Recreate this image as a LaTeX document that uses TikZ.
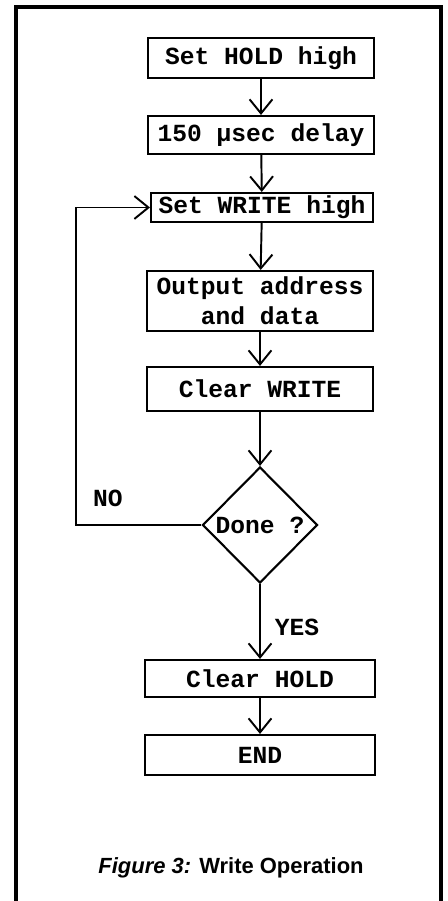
\documentclass[tikz,border=0pt]{standalone}
\usepackage{fontspec}
\setmonofont{Liberation Mono}
\setsansfont{Liberation Sans}
\usetikzlibrary{arrows.meta,shapes.geometric,positioning}

\begin{document}
\begin{tikzpicture}[x=0.02cm,y=-0.02cm,>={Straight Barb[length=8pt,width=13pt]},
    stepbox/.style={draw,line width=1.2pt,minimum width=4.52cm,inner sep=0pt,
      font=\fontsize{14}{17}\selectfont\ttfamily\bfseries,align=center},
    testbox/.style={draw,diamond,line width=1.2pt,inner sep=0pt,aspect=1,
      minimum width=2.3cm,minimum height=2.32cm,
      font=\fontsize{14}{17}\selectfont\ttfamily\bfseries},
    lbl/.style={font=\fontsize{14}{17}\selectfont\ttfamily\bfseries},
    flow/.style={->,line width=1.1pt}]
  \useasboundingbox (0,0) rectangle (448,901);
  % frame round the figure
  \draw[line width=2pt] (16,901) -- (16,7) -- (441,7) -- (441,901);

  \node[stepbox,minimum height=0.8cm]  (hold)   at (261,58)    {Set HOLD high};
  \node[stepbox,minimum height=0.76cm] (delay)  at (261,135)   {150 µsec delay};
  \node[stepbox,minimum height=0.58cm,minimum width=4.44cm] (write) at (262,207.5) {Set WRITE high};
  \node[stepbox,minimum height=1.2cm]  (output) at (260,301)   {Output address\\and data};
  \node[stepbox,minimum height=0.88cm] (clear)  at (260,389)   {Clear WRITE};
  \node[testbox]                       (done)   at (260,525)   {Done ?};
  \node[stepbox,minimum height=0.74cm,minimum width=4.6cm] (clrhold) at (260,678.5) {Clear HOLD};
  \node[stepbox,minimum height=0.8cm,minimum width=4.6cm]  (end)     at (260,755)   {END};

  \draw[flow] (hold) -- (delay);
  \draw[flow] (delay) -- (write);
  \draw[flow] (write) -- (output);
  \draw[flow] (output) -- (clear);
  \draw[flow] (clear) -- (done);
  \draw[flow] (done) -- (clrhold);
  \draw[flow] (clrhold) -- (end);

  % loop back on NO
  \coordinate (back) at (76,525);
  \draw[flow] (done.west) -- (back) |- (write.west);

  \node[lbl] (no)  at (108,498) {NO};
  \node[lbl] (yes) at (297,627) {YES};

  \node[font=\fontsize{12.5}{14}\selectfont\sffamily\bfseries] (caption) at (231,868)
    {\textit{Figure 3:} Write Operation};
\end{tikzpicture}
\end{document}
